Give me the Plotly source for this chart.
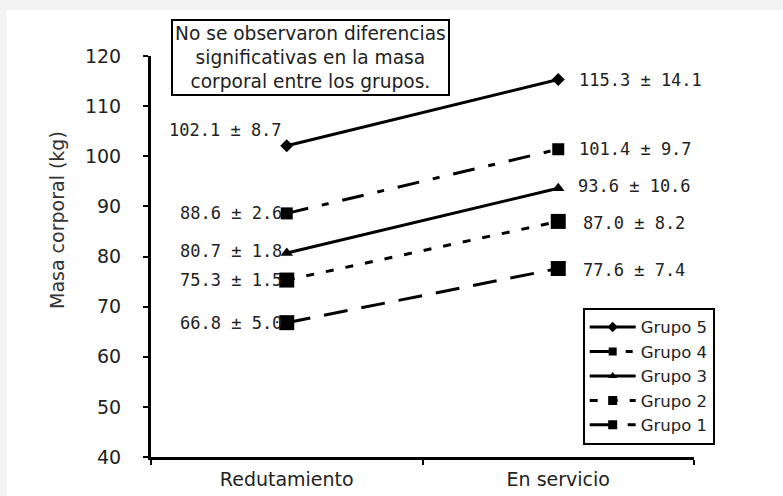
import plotly.graph_objects as go

# Measurement times (x categories)
etapas = ["Redutamiento", "En servicio"]

# Mean body mass (kg) per group at each time, with standard deviations
grupo1 = [66.8, 77.6]
grupo1_sd = [5.0, 7.4]
grupo2 = [75.3, 87.0]
grupo2_sd = [1.5, 8.2]
grupo3 = [80.7, 93.6]
grupo3_sd = [1.8, 10.6]
grupo4 = [88.6, 101.4]
grupo4_sd = [2.6, 9.7]
grupo5 = [102.1, 115.3]
grupo5_sd = [8.7, 14.1]

y_ticks = [40, 50, 60, 70, 80, 90, 100, 110, 120]

series = [
    # name, means, sds, marker symbol, marker size, legend marker size, dash pattern
    ("Grupo 5", grupo5, grupo5_sd, "diamond", 10, 8, "solid"),
    ("Grupo 4", grupo4, grupo4_sd, "square", 12, 8, "22px,14px,7px,14px"),
    ("Grupo 3", grupo3, grupo3_sd, "triangle-up", 11, 8, "solid"),
    ("Grupo 2", grupo2, grupo2_sd, "square", 15, 9, "8px,12px"),
    ("Grupo 1", grupo1, grupo1_sd, "square", 15, 9, "24px,14px"),
]

fig = go.Figure()
for name, means, sds, symbol, msize, lsize, dash in series:
    fig.add_trace(go.Scatter(
        x=etapas, y=means, name=name, mode="lines+markers", showlegend=False,
        line=dict(color="black", width=3, dash=dash),
        marker=dict(symbol=symbol, size=msize, color="black"),
    ))
# Legend entries with smaller sample markers
for name, means, sds, symbol, msize, lsize, dash in series:
    fig.add_trace(go.Scatter(
        x=[None], y=[None], name=name, mode="lines+markers",
        line=dict(color="black", width=3, dash=dash),
        marker=dict(symbol=symbol, size=lsize, color="black"),
    ))

label_font = dict(family="DejaVu Sans Mono", size=17, color="#222222")
annotations = []
# vertical nudges (px) for the value labels at each time point
left_shift = {"Grupo 5": 16, "Grupo 4": 0, "Grupo 3": 2, "Grupo 2": 0, "Grupo 1": 0}
right_shift = {"Grupo 5": 0, "Grupo 4": 0, "Grupo 3": 2, "Grupo 2": -2, "Grupo 1": -1}
right_x = {"Grupo 5": 19, "Grupo 4": 19, "Grupo 3": 18, "Grupo 2": 23, "Grupo 1": 23}
for name, means, sds, symbol, msize, lsize, dash in series:
    annotations.append(dict(
        x=etapas[0], y=means[0], xref="x", yref="y",
        text=f"{means[0]:.1f} ± {sds[0]:.1f}", showarrow=False,
        xanchor="right", yanchor="middle", xshift=-3, yshift=left_shift[name],
        font=label_font,
    ))
    annotations.append(dict(
        x=etapas[1], y=means[1], xref="x", yref="y",
        text=f"{means[1]:.1f} ± {sds[1]:.1f}", showarrow=False,
        xanchor="left", yanchor="middle", xshift=right_x[name], yshift=right_shift[name],
        font=label_font,
    ))

# Note box in the upper left
annotations.append(dict(
    x=0.2945, y=1.092, xref="paper", yref="paper",
    text="No se observaron diferencias<br>significativas en la masa<br>corporal entre los grupos.",
    showarrow=False, xanchor="center", yanchor="top", align="center",
    font=dict(family="DejaVu Sans", size=18.6, color="#222222"),
    bordercolor="black", borderwidth=2, borderpad=2, bgcolor="white",
))

# Y axis title
annotations.append(dict(
    x=-0.172, y=0.59, xref="paper", yref="paper", text="Masa corporal (kg)",
    showarrow=False, textangle=-90, xanchor="center", yanchor="middle",
    font=dict(family="DejaVu Sans", size=19, color="#333333"),
))

fig.update_layout(
    width=783, height=496,
    margin=dict(l=151, r=89, t=56, b=39),
    paper_bgcolor="#f3f3f3", plot_bgcolor="white",
    showlegend=True,
    legend=dict(
        x=0.795, y=0.372, xanchor="left", yanchor="top",
        bgcolor="white", bordercolor="black", borderwidth=2,
        font=dict(family="DejaVu Sans", size=16.5, color="#222222"),
        itemwidth=46, tracegroupgap=0,
    ),
    annotations=annotations,
    shapes=[dict(
        type="rect", xref="paper", yref="paper", layer="below",
        x0=-0.266, x1=1.2, y0=-0.2, y1=1.115,
        fillcolor="white", line=dict(width=0),
    )],
)

fig.update_xaxes(
    type="category", range=[-0.5, 1.5], tickson="boundaries", automargin=False,
    ticks="outside", ticklen=5, tickwidth=2, tickcolor="black",
    showline=True, linecolor="black", linewidth=3, showgrid=False, zeroline=False,
    tickfont=dict(family="DejaVu Sans", size=19, color="#222222"),
    ticklabelstandoff=3,
)
fig.update_yaxes(
    range=[40, 120], tickvals=y_ticks, automargin=False,
    ticks="outside", ticklen=5, tickwidth=2, tickcolor="black",
    showline=True, linecolor="black", linewidth=3, showgrid=False, zeroline=False,
    tickfont=dict(family="DejaVu Sans", size=19, color="#222222"),
    ticklabelstandoff=18,
)

fig.write_html("out.html")
